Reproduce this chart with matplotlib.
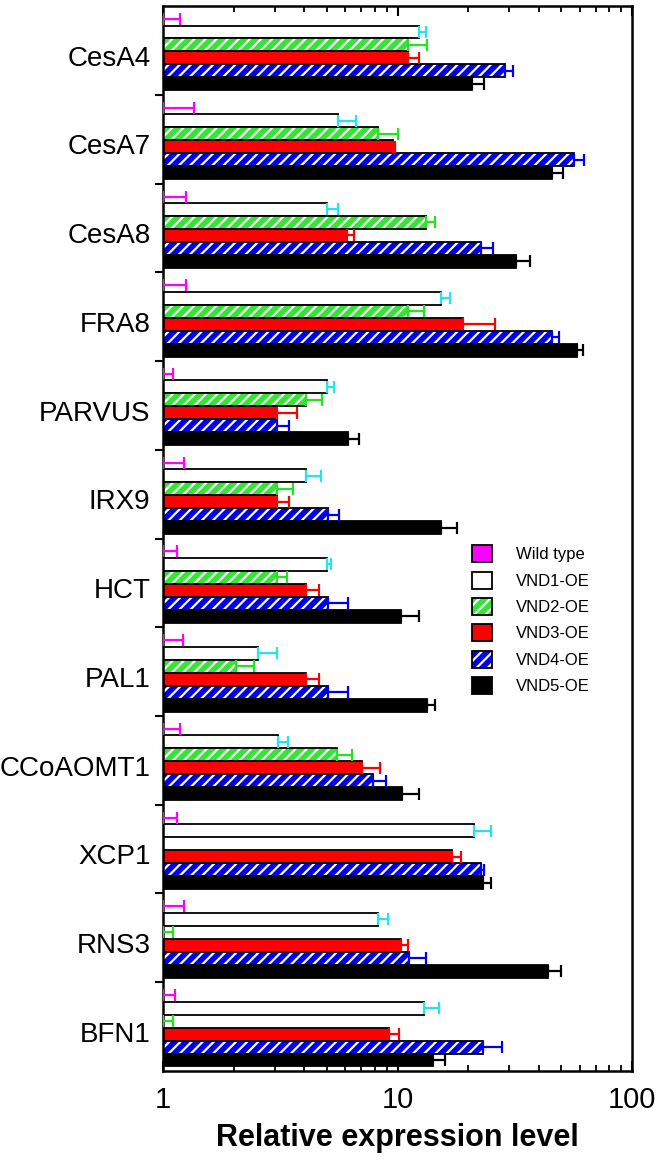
import numpy as np
import matplotlib.pyplot as plt
from matplotlib.patches import Patch
from matplotlib.legend_handler import HandlerTuple

plt.rcParams['font.family'] = ['Liberation Sans', 'DejaVu Sans']
plt.rcParams['hatch.linewidth'] = 1.6

genes = ['CesA4', 'CesA7', 'CesA8', 'FRA8', 'PARVUS', 'IRX9', 'HCT', 'PAL1',
         'CCoAOMT1', 'XCP1', 'RNS3', 'BFN1']
series = ['Wild type', 'VND1-OE', 'VND2-OE', 'VND3-OE', 'VND4-OE', 'VND5-OE']

wt_mean = [1.0] * 12
wt_err = [0.18, 0.36, 0.25, 0.25, 0.10, 0.23, 0.15, 0.22, 0.18, 0.15, 0.23, 0.13]

vnd1_mean = [12.4, 5.6, 5.0, 15.3, 5.0, 4.07, 5.0, 2.54, 3.09, 21.2, 8.26, 13.0]
vnd1_err = [0.8, 1.07, 0.6, 1.4, 0.35, 0.65, 0.2, 0.53, 0.33, 3.8, 0.84, 2.1]

vnd2_mean = [11.1, 8.26, 13.2, 11.1, 4.07, 3.07, 3.07, 2.05, 5.51, np.nan, 1.0, 1.0]
vnd2_err = [2.2, 1.74, 1.2, 1.9, 0.68, 0.53, 0.3, 0.39, 0.88, np.nan, 0.1, 0.1]

vnd3_mean = [11.1, 9.58, 6.08, 19.0, 3.07, 3.07, 4.07, 4.07, 7.08, 17.1, 10.3, 9.18]
vnd3_err = [1.3, 0.22, 0.42, 7.0, 0.65, 0.36, 0.57, 0.57, 1.35, 1.6, 0.8, 1.0]

vnd4_mean = [28.6, 56.8, 22.7, 45.5, 3.07, 5.04, 5.04, 5.04, 7.88, 22.7, 11.2, 23.1]
vnd4_err = [2.5, 5.8, 2.8, 3.1, 0.36, 0.58, 1.1, 1.1, 1.09, 0.7, 2.0, 4.9]

vnd5_mean = [20.8, 45.8, 31.9, 58.1, 6.14, 15.4, 10.3, 13.3, 10.5, 23.2, 43.8, 14.2]
vnd5_err = [2.5, 4.8, 4.8, 3.5, 0.68, 2.6, 2.0, 1.1, 1.9, 1.8, 6.0, 1.8]

means = [wt_mean, vnd1_mean, vnd2_mean, vnd3_mean, vnd4_mean, vnd5_mean]
errs = [wt_err, vnd1_err, vnd2_err, vnd3_err, vnd4_err, vnd5_err]
faces = ['#ff00ff', 'white', '#33e633', '#ff0000', '#0000ee', 'black']
hatches = [None, None, '///', None, '///', None]
err_colors = ['#ff00ff', '#22e5f0', '#22e522', '#ff0000', '#0000ee', 'black']

fig = plt.figure(figsize=(6.66, 11.65), dpi=100)
ax = fig.add_axes([0.2447, 0.0807, 0.7043, 0.9141])

slot = 13 / 89
base = np.arange(len(genes))
for j in range(6):
    m = np.array(means[j], dtype=float)
    e = np.array(errs[j], dtype=float)
    y = base + slot + j * slot
    if j > 0:
        if hatches[j]:
            ax.barh(y, m - 1, left=1, height=slot, color=faces[j],
                    edgecolor='white', hatch=hatches[j], linewidth=0, zorder=2)
            ax.barh(y, m - 1, left=1, height=slot, fill=False,
                    edgecolor='black', linewidth=1.3, zorder=3)
        else:
            ax.barh(y, m - 1, left=1, height=slot, color=faces[j],
                    edgecolor='black', linewidth=1.3, zorder=2)
    ax.errorbar(m, y, xerr=[np.zeros_like(e), e], fmt='none', ecolor=err_colors[j],
                elinewidth=1.6, capsize=4, capthick=1.6, zorder=4)

ax.set_xscale('log')
ax.set_xlim(1, 100)
ax.set_ylim(len(genes), 0)
ax.set_xticks([1, 10, 100])
ax.set_xticklabels(['1', '10', '100'])
ax.tick_params(axis='x', which='major', direction='in', top=True, length=7,
               width=1.5, labelsize=21, pad=11)
ax.tick_params(axis='x', which='minor', direction='in', top=True, length=4, width=1.3)

# gene names sit a little below the group centre
ax.set_yticks(base + 0.56)
ax.set_yticklabels(genes)
ax.set_yticks(np.arange(1, len(genes)), minor=True)
ax.tick_params(axis='y', which='major', length=0, labelsize=20, pad=9)
ax.tick_params(axis='y', which='minor', direction='out', length=6, width=1.5)

for s in ax.spines.values():
    s.set_linewidth(1.8)

ax.set_xlabel('Relative expression level', fontsize=22, fontweight='bold', labelpad=6)

handles = []
for j in range(6):
    if hatches[j]:
        handles.append((Patch(facecolor=faces[j], edgecolor='white', hatch=hatches[j], lw=0),
                        Patch(fill=False, edgecolor='black', lw=1.3)))
    else:
        handles.append(Patch(facecolor=faces[j], edgecolor='black', lw=1.3))
ax.legend(handles, series, loc='upper left', bbox_to_anchor=(0.645, 0.5),
          frameon=False, fontsize=12, handlelength=1.2, handleheight=1.2,
          handletextpad=1.4, labelspacing=0.55, borderaxespad=0,
          handler_map={tuple: HandlerTuple(ndivide=1, pad=0)})

fig.savefig('out.png', dpi=100)
